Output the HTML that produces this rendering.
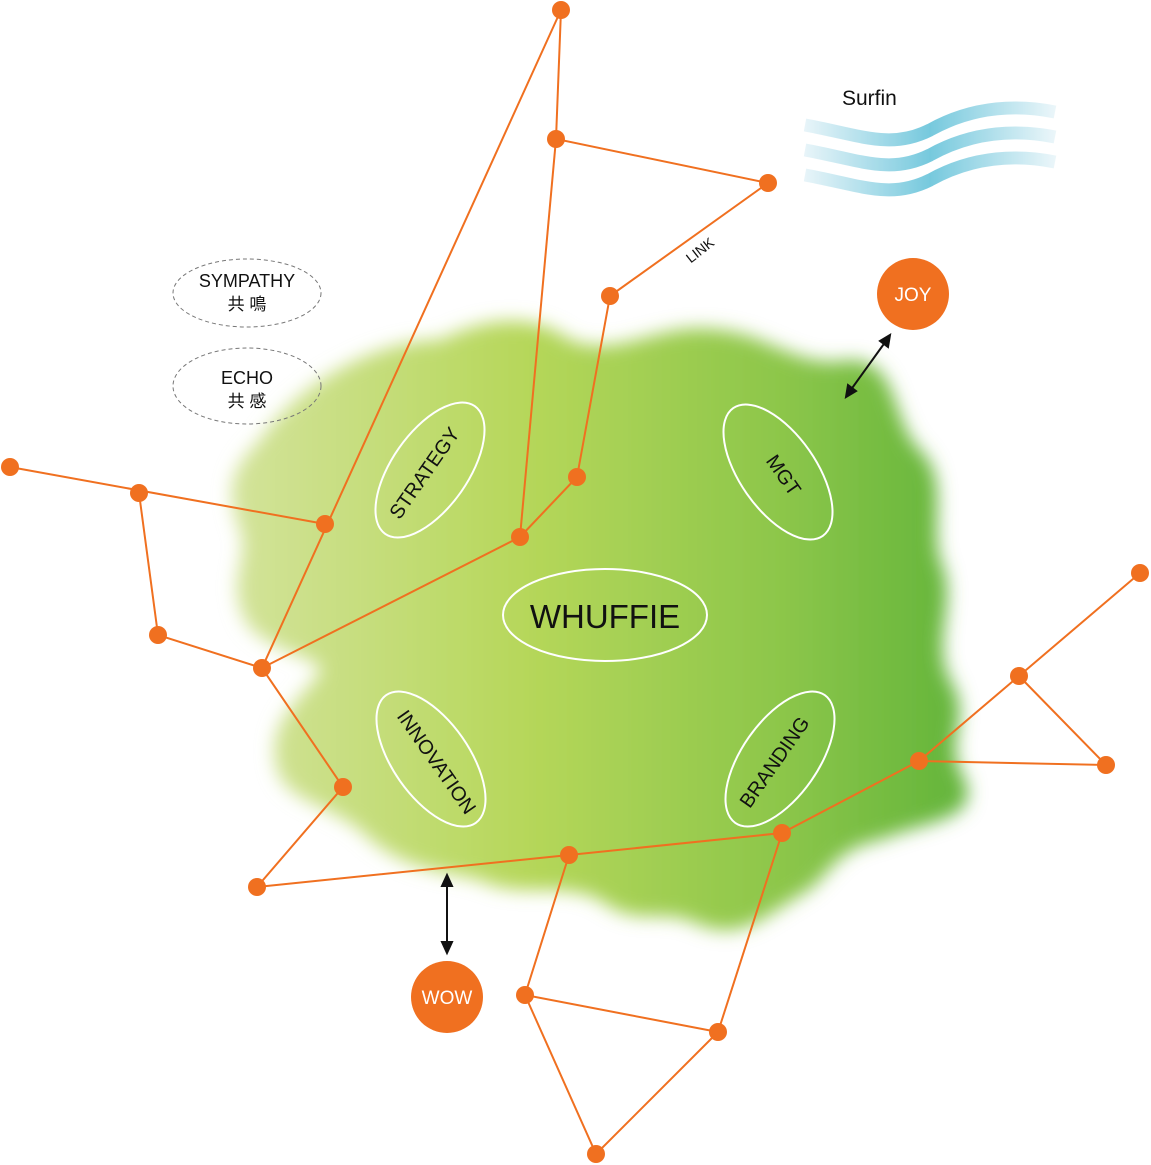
<!DOCTYPE html>
<html><head><meta charset="utf-8"><style>
html,body{margin:0;padding:0;background:#fff;}
svg{display:block;font-family:"Liberation Sans","Noto Sans CJK JP",sans-serif;}
</style></head><body>
<svg width="1151" height="1165" viewBox="0 0 1151 1165" xmlns="http://www.w3.org/2000/svg">
<defs>
<linearGradient id="g" x1="0" y1="0" x2="1" y2="0">
<stop offset="0" stop-color="#d3e39a"/>
<stop offset="0.4" stop-color="#b6d75a"/>
<stop offset="0.75" stop-color="#8cc64a"/>
<stop offset="1" stop-color="#62b43a"/>
</linearGradient>
<filter id="bl" x="-10%" y="-10%" width="120%" height="120%"><feGaussianBlur stdDeviation="9"/></filter>
<linearGradient id="w" x1="0" y1="0" x2="1" y2="0">
<stop offset="0" stop-color="#e4f3f8"/>
<stop offset="0.5" stop-color="#5fc0d8"/>
<stop offset="1" stop-color="#e8f5f9"/>
</linearGradient>
</defs>
<path filter="url(#bl)" fill="url(#g)" d="M260,440 C300,380 380,340 440,340 C480,320 530,310 570,340 C620,360 660,320 720,330 C770,335 800,370 850,360 C900,360 890,420 920,450 C950,480 930,520 940,560 C960,600 930,640 950,680 C975,720 940,740 965,780 C980,820 930,820 880,840 C830,850 830,880 800,895 C760,920 740,940 700,925 C660,905 640,930 600,900 C560,880 520,900 480,880 C440,870 400,870 360,830 C320,800 280,800 275,760 C270,720 300,700 320,672 C330,660 260,650 245,620 C225,580 250,560 240,530 C225,490 230,470 260,440 Z"/>
<g fill="none" stroke="url(#w)" stroke-width="13" opacity="0.85">
<path d="M805,125 C860,135 890,150 930,130 C975,105 1020,105 1055,112"/>
<path d="M805,150 C860,160 890,175 930,155 C975,130 1020,130 1055,137"/>
<path d="M805,175 C860,185 890,200 930,180 C975,155 1020,155 1055,162"/>
</g>
<text x="842" y="105" font-size="21" fill="#111">Surfin</text>
<ellipse cx="247" cy="293" rx="74" ry="34" fill="none" stroke="#777" stroke-dasharray="4,3"/>
<text x="247" y="287" font-size="18" text-anchor="middle" fill="#111">SYMPATHY</text>
<text x="247" y="310" font-size="17" text-anchor="middle" fill="#111">共 鳴</text>
<ellipse cx="247" cy="386" rx="74" ry="38" fill="none" stroke="#777" stroke-dasharray="4,3"/>
<text x="247" y="384" font-size="18" text-anchor="middle" fill="#111">ECHO</text>
<text x="247" y="407" font-size="17" text-anchor="middle" fill="#111">共 感</text>
<g fill="none" stroke="#fff" stroke-width="2">
<ellipse cx="430" cy="470" rx="78" ry="38" transform="rotate(-55 430 470)"/>
<ellipse cx="778" cy="472" rx="78" ry="38" transform="rotate(55 778 472)"/>
<ellipse cx="605" cy="615" rx="102" ry="46"/>
<ellipse cx="431" cy="759" rx="78" ry="38" transform="rotate(55 431 759)"/>
<ellipse cx="780" cy="759" rx="78" ry="38" transform="rotate(-55 780 759)"/>
</g>
<g font-size="20" fill="#111" text-anchor="middle">
<text transform="translate(430,477) rotate(-55)">STRATEGY</text>
<text transform="translate(778,479) rotate(55)">MGT</text>
<text transform="translate(431,766) rotate(55)">INNOVATION</text>
<text transform="translate(780,766) rotate(-55)">BRANDING</text>
</g>
<text x="605" y="628" font-size="33" text-anchor="middle" fill="#111">WHUFFIE</text>
<text transform="translate(703,254) rotate(-38)" font-size="14" fill="#111" text-anchor="middle">LINK</text>
<g stroke="#f07020" stroke-width="2" fill="none">
<path d="M561,10 L556,139 L768,183 L610,296 L577,477 L520,537 L262,668 L561,10"/>
<path d="M556,139 L520,537"/>
<path d="M10,467 L325,524"/>
<path d="M139,493 L158,635 L262,668 L343,787 L257,887 L569,855 L782,833 L919,761 L1019,676 L1140,573"/>
<path d="M1019,676 L1106,765 L919,761"/>
<path d="M569,855 L525,995 L718,1032 L596,1154 L525,995"/>
<path d="M782,833 L718,1032"/>
</g>
<g fill="#f07020">
<circle cx="561" cy="10" r="9"/><circle cx="556" cy="139" r="9"/><circle cx="768" cy="183" r="9"/>
<circle cx="610" cy="296" r="9"/><circle cx="577" cy="477" r="9"/><circle cx="520" cy="537" r="9"/>
<circle cx="325" cy="524" r="9"/><circle cx="262" cy="668" r="9"/><circle cx="139" cy="493" r="9"/>
<circle cx="10" cy="467" r="9"/><circle cx="158" cy="635" r="9"/><circle cx="343" cy="787" r="9"/>
<circle cx="257" cy="887" r="9"/><circle cx="569" cy="855" r="9"/><circle cx="782" cy="833" r="9"/>
<circle cx="919" cy="761" r="9"/><circle cx="1019" cy="676" r="9"/><circle cx="1140" cy="573" r="9"/>
<circle cx="1106" cy="765" r="9"/><circle cx="525" cy="995" r="9"/><circle cx="718" cy="1032" r="9"/>
<circle cx="596" cy="1154" r="9"/>
<circle cx="913" cy="294" r="36"/><circle cx="447" cy="997" r="36"/>
</g>
<text x="913" y="301" font-size="19" fill="#fff" text-anchor="middle">JOY</text>
<text x="447" y="1004" font-size="19" fill="#fff" text-anchor="middle">WOW</text>
<g stroke="#111" stroke-width="2" fill="#111">
<line x1="447" y1="882" x2="447" y2="946"/>
<path d="M447,875 L442,886 L452,886Z"/><path d="M447,953 L442,942 L452,942Z"/>
<line x1="886" y1="341" x2="850" y2="391"/>
<path d="M890,335 L880,341 L888,347Z"/><path d="M846,397 L848,385 L856,391Z"/>
</g>
</svg>
</body></html>
